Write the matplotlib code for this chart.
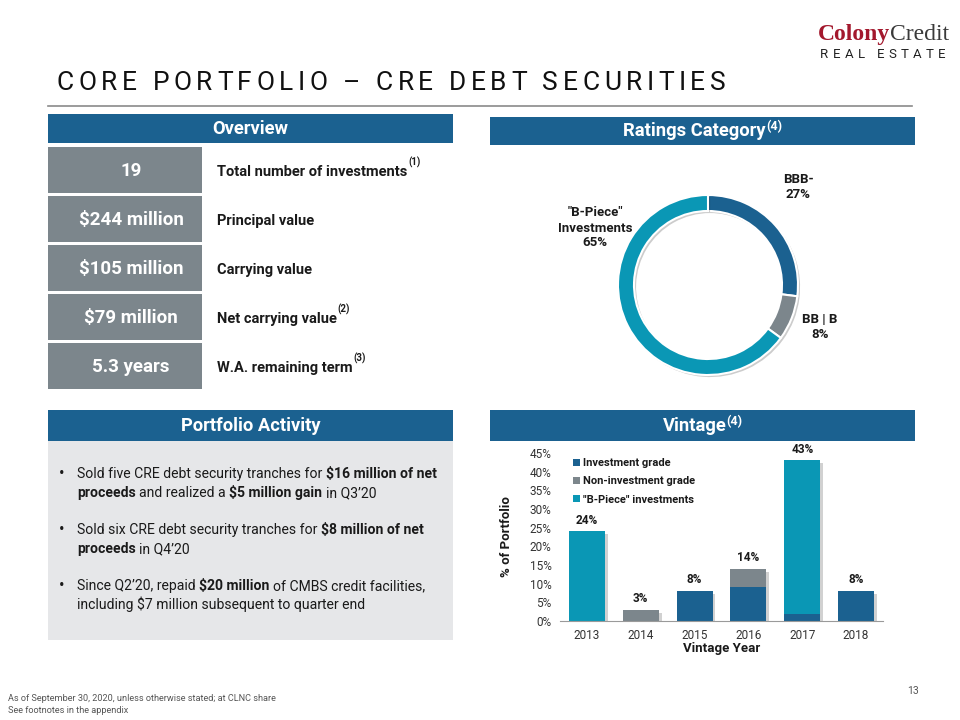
import matplotlib
matplotlib.use('Agg')
from matplotlib import pyplot as plt
from matplotlib.patches import Rectangle
import matplotlib.patheffects as pe

plt.rcParams['font.family'] = ['Roboto', 'DejaVu Sans']

# ---- data ----
title = 'CORE PORTFOLIO \u2013 CRE DEBT SECURITIES'

overview_values = ['19', '$244 million', '$105 million', '$79 million', '5.3 years']
overview_labels = ['Total number of investments', 'Principal value', 'Carrying value',
                   'Net carrying value', 'W.A. remaining term']
overview_notes = ['(1)', '', '', '(2)', '(3)']

rating_labels = ['BBB-', 'BB | B', '"B-Piece"\nInvestments']
rating_values = [27, 8, 65]

years = ['2013', '2014', '2015', '2016', '2017', '2018']
inv_grade = [0, 0, 8, 9, 2, 8]
non_inv_grade = [0, 3, 0, 5, 0, 0]
bpiece = [24, 0, 0, 0, 41, 0]
series_names = ['Investment grade', 'Non-investment grade', '"B-Piece" investments']

activity = [
    [[('Sold five CRE debt security tranches for ', 'normal'), ('$16 million of net', 'bold')],
     [('proceeds', 'bold'), (' and realized a ', 'normal'), ('$5 million gain', 'bold'), (' in Q3\u201920', 'normal')]],
    [[('Sold six CRE debt security tranches for ', 'normal'), ('$8 million of net', 'bold')],
     [('proceeds', 'bold'), (' in Q4\u201920', 'normal')]],
    [[('Since Q2\u201920, repaid ', 'normal'), ('$20 million', 'bold'), (' of CMBS credit facilities,', 'normal')],
     [('including $7 million subsequent to quarter end', 'normal')]],
]

footnotes = ['As of September 30, 2020, unless otherwise stated; at CLNC share',
             'See footnotes in the appendix']

BLUE = '#1b6190'
TEAL = '#0a97b5'
GRAY = '#7c868c'
PANEL = '#e6e7e9'
DARK = '#1a1a1a'

W, H = 960, 720
fig = plt.figure(figsize=(9.6, 7.2), dpi=100)
ax0 = fig.add_axes([0, 0, 1, 1])
ax0.set_xlim(0, W)
ax0.set_ylim(H, 0)
ax0.axis('off')
r = fig.canvas.get_renderer()


def box(x0, y0, x1, y1):
  return [x0 / W, 1 - y1 / H, (x1 - x0) / W, (y1 - y0) / H]


def width_of(s, **kw):
  t = ax0.text(0, 0, s, parse_math=False, **kw)
  w = t.get_window_extent(renderer=r).width
  t.remove()
  return w


def runs(x, y, parts, size, color=DARK, **kw):
  # draw pieces of text of mixed weight one after the other
  for s, w in parts:
    sp = width_of('a a', fontsize=size, fontweight=w, **kw) - width_of('aa', fontsize=size, fontweight=w, **kw)
    lead = len(s) - len(s.lstrip(' '))
    trail = len(s) - len(s.rstrip(' '))
    x += lead * sp
    core = s.strip(' ')
    ax0.text(x, y, core, fontsize=size, fontweight=w, color=color, va='baseline', ha='left',
             parse_math=False, **kw)
    x += width_of(core, fontsize=size, fontweight=w, **kw) + trail * sp
  return x


def spaced(x, y, s, size, gap, **kw):
  # letter spaced text
  sp = width_of('a a', fontsize=size, **kw) - width_of('aa', fontsize=size, **kw)
  for ch in s:
    if ch == ' ':
      x += sp + gap
      continue
    ax0.text(x, y, ch, fontsize=size, va='baseline', ha='left', parse_math=False, **kw)
    x += width_of(ch, fontsize=size, **kw) + gap
  return x


def header(x0, y0, x1, y1, text, note=''):
  ax0.add_patch(Rectangle((x0, y0), x1 - x0, y1 - y0, color=BLUE, lw=0))
  cy = (y0 + y1) / 2 + 5.5
  if note:
    wt = width_of(text, fontsize=13.2, fontweight='bold')
    wn = width_of(note, fontsize=9, fontweight='bold')
    xs = (x0 + x1) / 2 - (wt + wn) / 2
    ax0.text(xs, cy, text, fontsize=13.2, fontweight='bold', color='white', va='baseline')
    ax0.text(xs + wt, cy - 6, note, fontsize=9, fontweight='bold', color='white', va='baseline')
  else:
    ax0.text((x0 + x1) / 2, cy, text, fontsize=13.2, fontweight='bold', color='white',
             va='baseline', ha='center')


# ---- logo ----
xl = runs(818, 40, [('Colony', 'bold')], 17, color='#a3182d', family='Liberation Serif')
runs(xl, 40, [('Credit', 'normal')], 17, color='#3a3a3a', family='Liberation Serif')
spaced(820, 58, 'REAL ESTATE', 9.5, 4.4, color='#222222')

# ---- title ----
spaced(57, 90, title, 19, 4.55, color='#111111')
ax0.plot([48, 912], [106, 106], color='#8a8a8a', lw=1.2)

# ---- overview ----
header(48, 114, 453, 143, 'Overview')
for i, (v, lab, note) in enumerate(zip(overview_values, overview_labels, overview_notes)):
  y0 = 147 + i * 49
  ax0.add_patch(Rectangle((48, y0), 154, 46, color=GRAY, lw=0))
  ax0.text(131, y0 + 29, v, fontsize=13.5, fontweight='bold', color='white', ha='center',
           va='baseline', parse_math=False)
  xe = runs(217, y0 + 29, [(lab, 'bold')], 10.5)
  if note:
    ax0.text(xe + 1, y0 + 19, note, fontsize=7, fontweight='bold', color=DARK, va='baseline')

# ---- ratings donut ----
header(490, 117, 915, 145, 'Ratings Category', '(4)')
axd = fig.add_axes(box(608, 185, 808, 385))
wedges, _ = axd.pie(rating_values, colors=[BLUE, GRAY, TEAL], startangle=90, counterclock=False,
                    radius=0.9, wedgeprops=dict(width=0.16, edgecolor='white', linewidth=1.5))
for w in wedges:
  w.set_path_effects([pe.SimplePatchShadow(offset=(1.5, -1.5), shadow_rgbFace='k', alpha=0.2),
                      pe.Normal()])
axd.set_xlim(-1, 1)
axd.set_ylim(-1, 1)
axd.set_aspect('equal')
label_pos = [(798, 187), (820, 327), (595, 228)]
for (lx, ly), lab, val in zip(label_pos, rating_labels, rating_values):
  ax0.text(lx, ly, f'{lab}\n{val}%', fontsize=9.5, fontweight='bold', color=DARK, ha='center',
           va='center', linespacing=1.2)

# ---- portfolio activity ----
header(48, 410, 453, 441, 'Portfolio Activity')
ax0.add_patch(Rectangle((48, 441), 405, 199, color=PANEL, lw=0))
for k, item in enumerate(activity):
  yb = 478 + k * 56
  ax0.text(59, yb, '\u2022', fontsize=12, color=DARK, va='baseline')
  for j, line in enumerate(item):
    runs(77, yb + j * 19, line, 10.1)

# ---- vintage bars ----
header(490, 410, 915, 441, 'Vintage', '(4)')
ax = fig.add_axes(box(560, 453, 883, 621))
xs = range(len(years))
shadow = [pe.SimplePatchShadow(offset=(2, -2), shadow_rgbFace='k', alpha=0.18), pe.Normal()]
bottoms = [0] * len(years)
# lower segments on top so the shadow of the segment above does not show on them
for vals, col, name, z in zip([inv_grade, non_inv_grade, bpiece], [BLUE, GRAY, TEAL], series_names,
                              [2.3, 2.2, 2.1]):
  bars = ax.bar(xs, vals, width=0.67, bottom=bottoms, color=col, label=name, zorder=z)
  for b in bars:
    b.set_path_effects(shadow)
  bottoms = [b + v for b, v in zip(bottoms, vals)]
for x, tot in zip(xs, bottoms):
  ax.text(x, tot + 1.3, f'{tot}%', ha='center', va='bottom', fontsize=8.5, fontweight='bold',
          color=DARK)
ax.set_xlim(-0.5, 5.5)
ax.set_ylim(0, 45)
ax.set_yticks(range(0, 46, 5))
ax.set_yticklabels([f'{v}%' for v in range(0, 46, 5)])
ax.set_xticks(list(xs))
ax.set_xticklabels(years)
ax.tick_params(length=0, labelsize=8.5, colors='#333333', pad=6)
for s in ['left', 'top', 'right']:
  ax.spines[s].set_visible(False)
ax.spines['bottom'].set_color('#9a9a9a')
ax.set_facecolor('none')
ax.set_ylabel('% of Portfolio', fontsize=9.5, fontweight='bold', color=DARK)
ax.yaxis.set_label_coords(-0.145, 0.5)
ax.set_xlabel('Vintage Year', fontsize=9.5, fontweight='bold', color=DARK)
ax.xaxis.set_label_coords(0.5, -0.125)
leg = ax.legend(loc='upper left', bbox_to_anchor=(0.01, 1.03), frameon=False, handlelength=0.6,
                handleheight=0.6, handletextpad=0.3, labelspacing=0.75,
                prop=dict(size=8, weight='bold'), labelcolor=DARK)
for h in leg.legend_handles:
  h.set_path_effects([])

# ---- footer ----
for i, f in enumerate(footnotes):
  ax0.text(8, 701 + i * 12, f, fontsize=6.6, color='#555555', va='baseline')
ax0.text(913, 694, '13', fontsize=7.5, color='#555555', va='baseline', ha='center')

fig.savefig('out.png', dpi=100)
